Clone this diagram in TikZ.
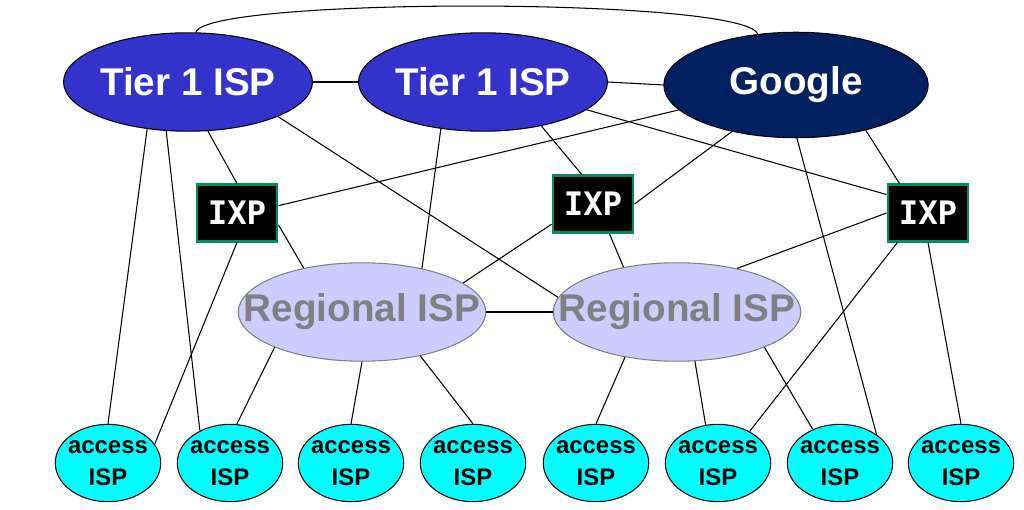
\documentclass[tikz,border=0pt]{standalone}
\usepackage{fontspec}
\setmainfont{Liberation Sans}
\newfontfamily\ixpfont{DejaVu Sans Mono}
\usetikzlibrary{shapes.geometric}

\definecolor{tierblue}{RGB}{51,51,204}
\definecolor{googlenavy}{RGB}{0,32,96}
\definecolor{regfill}{RGB}{204,204,255}
\definecolor{reggray}{RGB}{128,128,128}
\definecolor{ixpgreen}{RGB}{0,140,100}
\definecolor{accfill}{RGB}{0,255,255}

\begin{document}
\begin{tikzpicture}[x=0.025cm,y=-0.025cm,
  link/.style={line width=0.75pt},
  tier/.style={ellipse,draw,line width=0.75pt,fill=tierblue,text=white,inner sep=0pt,
    minimum width=177pt,minimum height=70pt,font=\fontsize{27.5}{30}\selectfont\bfseries},
  regional/.style={ellipse,draw=reggray,line width=0.75pt,fill=regfill,text=reggray,
    inner xsep=-22pt,inner ysep=0pt,minimum width=176pt,minimum height=70pt,
    font=\fontsize{27.5}{30}\selectfont\bfseries},
  ixp/.style={rectangle,draw=ixpgreen,line width=2pt,fill=black,text=white,
    minimum width=57pt,minimum height=40pt,font=\fontsize{23}{25}\ixpfont\bfseries},
  access/.style={ellipse,draw,line width=0.75pt,fill=accfill,align=center,
    inner xsep=-6pt,inner ysep=0pt,minimum width=75pt,minimum height=55pt,
    font=\fontsize{17}{22.5}\selectfont\bfseries}]
  \useasboundingbox (0,0) rectangle (1024,510);

  % Tier 1 ISPs and Google
  \node[tier] (t1a) at (188,82) {Tier 1 ISP};
  \node[tier] (t1b) at (483,82) {Tier 1 ISP};
  \node[tier,fill=googlenavy,minimum width=188pt,minimum height=75pt] (goog) at (796,85) {Google};

  % IXPs
  \node[ixp] (ixpa) at (237,213) {IXP};
  \node[ixp] (ixpb) at (593,204) {IXP};
  \node[ixp] (ixpc) at (928,213) {IXP};

  % Regional ISPs
  \node[regional] (rega) at (362,312) {Regional ISP};
  \node[regional] (regb) at (677,312) {Regional ISP};

  % access ISPs
  \foreach \i/\x in {1/108,2/230,3/351,4/473,5/596,6/718,7/840,8/961}
    \node[access] (acc\i) at (\x,463) {access\\ISP};

  % top level links
  \draw[link] (t1a.east) -- (t1b.west);
  \draw[link] (t1b.east) -- (goog.west);
  \draw[link] (t1a.81) .. controls (205,-3) and (745,-3) .. (goog.127);

  % links from Tier 1 ISPs
  \draw[link] (t1a.229) -- (acc1.north);
  \draw[link] (t1a.246) -- (acc2.133);
  \draw[link] (t1a.292) -- (ixpa.north);
  \draw[link] (t1a.339) -- (regb.173);
  \draw[link] (t1b.228) -- (rega.36);
  \draw[link] (t1b.323) -- (ixpb.111);
  \draw[link] (t1b.345) -- (ixpc.156);

  % links from Google
  \draw[link] (goog.192) -- (ixpa.10);
  \draw[link] (goog.216) -- (ixpb.east);
  \draw[link] (goog.327) -- (ixpc.134);
  \draw[link] (goog.271) -- (acc7.38);

  % links from IXPs
  \draw[link] (ixpa.south) -- (acc1.22);
  \draw[link] (ixpa.344) -- (rega.143);
  \draw[link] (ixpb.206) -- (rega.16);
  \draw[link] (ixpb.299) -- (regb.140);
  \draw[link] (ixpc.west) -- (regb.36);
  \draw[link] (ixpc.224) -- (acc6.45);
  \draw[link] (ixpc.south) -- (acc8.north);

  % links from Regional ISPs
  \draw[link] (rega.east) -- (regb.west);
  \draw[link] (rega.202) -- (acc2.80);
  \draw[link] (rega.270) -- (acc3.north);
  \draw[link] (rega.323) -- (acc4.north);
  \draw[link] (regb.221) -- (acc5.north);
  \draw[link] (regb.290) -- (acc6.108);
  \draw[link] (regb.338) -- (acc7.129);
\end{tikzpicture}
\end{document}
